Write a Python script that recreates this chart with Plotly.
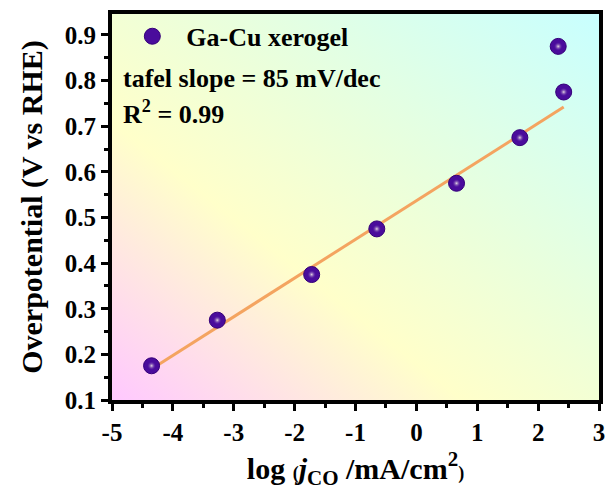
import base64
import plotly.graph_objects as go

# Data
log_j = [-4.35, -3.27, -1.72, -0.65, 0.66, 1.70, 2.33, 2.42]
overpotential = [0.175, 0.275, 0.375, 0.475, 0.575, 0.675, 0.875, 0.775]
fit_x = [-4.35, 2.42]
fit_y = [0.168, 0.742]
series_name = "Ga-Cu xerogel"
x_ticks = [-5, -4, -3, -2, -1, 0, 1, 2, 3]
y_ticks = [0.1, 0.2, 0.3, 0.4, 0.5, 0.6, 0.7, 0.8, 0.9]

X_RANGE = [-5, 3]
Y_RANGE = [0.1, 0.946]
FONT = "Liberation Serif"

# diagonal background gradient as an inline SVG image
svg = (
    '<svg xmlns="http://www.w3.org/2000/svg" width="100" height="100" '
    'viewBox="0 0 100 100" preserveAspectRatio="none">'
    '<defs><linearGradient id="g" x1="0" y1="1" x2="1" y2="0">'
    '<stop offset="0" stop-color="#FFC8FF"/>'
    '<stop offset="0.36" stop-color="#FFFFCA"/>'
    '<stop offset="0.60" stop-color="#EAFFDC"/>'
    '<stop offset="1" stop-color="#C8FFFF"/>'
    '</linearGradient></defs>'
    '<rect width="100" height="100" fill="url(#g)"/></svg>'
)
bg_src = "data:image/svg+xml;base64," + base64.b64encode(svg.encode()).decode()

fig = go.Figure()

fig.add_layout_image(dict(
    source=bg_src, xref="x", yref="y", x=X_RANGE[0], y=Y_RANGE[1],
    sizex=X_RANGE[1] - X_RANGE[0], sizey=Y_RANGE[1] - Y_RANGE[0],
    sizing="stretch", layer="below", xanchor="left", yanchor="top",
))

fig.add_trace(go.Scatter(
    x=fit_x, y=fit_y, mode="lines",
    line=dict(color="#F4A460", width=3), showlegend=False, hoverinfo="skip",
))

fig.add_trace(go.Scatter(
    x=log_j, y=overpotential, mode="markers", name=series_name,
    marker=dict(size=16, color="#4A0C9C", line=dict(color="#35007A", width=1)),
    showlegend=True,
))
fig.add_trace(go.Scatter(
    x=log_j, y=overpotential, mode="markers",
    marker=dict(size=9, color="rgba(74,12,156,0)", line=dict(width=0),
                gradient=dict(type="radial", color="#E6DAE2")),
    showlegend=False, hoverinfo="skip",
))

fig.add_annotation(text="<b>tafel slope = 85 mV/dec</b>", xref="paper", yref="paper",
                   x=0.018, y=0.832, xanchor="left", yanchor="middle", showarrow=False,
                   font=dict(family=FONT, size=26, color="black"))
fig.add_annotation(text="<b>R<sup>2</sup> = 0.99</b>", xref="paper", yref="paper",
                   x=0.018, y=0.745, xanchor="left", yanchor="middle", showarrow=False,
                   font=dict(family=FONT, size=26, color="black"))

axis_common = dict(
    showline=True, linewidth=4, linecolor="black", mirror=True,
    ticks="outside", ticklen=7, tickwidth=3, tickcolor="black",
    showgrid=False, zeroline=False, automargin=False,
    tickfont=dict(family=FONT, size=25, color="black", weight="bold"),
)

fig.update_xaxes(range=X_RANGE, tickvals=x_ticks, ticktext=[str(v) for v in x_ticks],
                 minor=dict(ticks="outside", ticklen=4, tickwidth=3, dtick=0.5, tickcolor="black", showgrid=False),
                 title=dict(text="<b>log <span style='font-size:18px'>(</span><i>j</i><sub>CO</sub> /mA/cm<sup>2</sup><span style='font-size:18px'>)</span></b>",
                            font=dict(family=FONT, size=30, color="black"), standoff=14),
                 **axis_common)
fig.update_yaxes(range=Y_RANGE, tickvals=y_ticks, ticktext=[f"{v:.1f}" for v in y_ticks],
                 minor=dict(ticks="outside", ticklen=4, tickwidth=3, dtick=0.05, tickcolor="black", showgrid=False),
                 title=dict(text="<b>Overpotential (V vs RHE)</b>",
                            font=dict(family=FONT, size=30, color="black"), standoff=14),
                 **axis_common)

fig.update_layout(
    width=606, height=490,
    margin=dict(l=112, r=7, t=14, b=90),
    paper_bgcolor="white", plot_bgcolor="rgba(0,0,0,0)",
    legend=dict(x=0.013, y=1.003, xanchor="left", yanchor="top", bgcolor="rgba(0,0,0,0)",
                font=dict(family=FONT, size=26, color="black", weight="bold"),
                itemwidth=58),
)

fig.write_html("out.html")
